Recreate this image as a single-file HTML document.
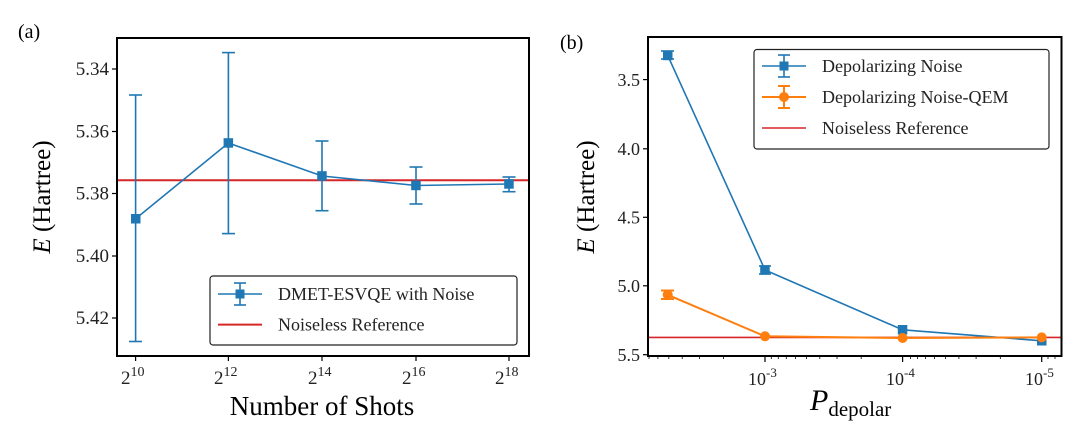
<!DOCTYPE html>
<html><head><meta charset="utf-8"><style>
html,body{margin:0;padding:0;background:#fff;}
svg{display:block;font-family:"Liberation Serif",serif;}
</style></head><body>
<svg width="1080" height="433" viewBox="0 0 1080 433" xmlns="http://www.w3.org/2000/svg">
<rect width="1080" height="433" fill="#fff"/>
<!-- Panel a -->
<text x="18" y="38" font-size="20">(a)</text>
<line x1="117" y1="180.3" x2="529" y2="180.3" stroke="#d62728" stroke-width="2"/>
<g stroke="#1f77b4" stroke-width="1.6" fill="none">
<polyline points="135.6,218.7 228.4,143 322,176 416,185.5 509,184"/>
<line x1="135.6" y1="95" x2="135.6" y2="341.5"/><line x1="129" y1="95" x2="142" y2="95"/><line x1="129" y1="341.5" x2="142" y2="341.5"/>
<line x1="228.4" y1="52.6" x2="228.4" y2="233.6"/><line x1="222" y1="52.6" x2="235" y2="52.6"/><line x1="222" y1="233.6" x2="235" y2="233.6"/>
<line x1="322" y1="141" x2="322" y2="210.7"/><line x1="315.5" y1="141" x2="328.5" y2="141"/><line x1="315.5" y1="210.7" x2="328.5" y2="210.7"/>
<line x1="416" y1="167" x2="416" y2="204"/><line x1="409.5" y1="167" x2="422.5" y2="167"/><line x1="409.5" y1="204" x2="422.5" y2="204"/>
<line x1="509" y1="177" x2="509" y2="191.7"/><line x1="502.5" y1="177" x2="515.5" y2="177"/><line x1="502.5" y1="191.7" x2="515.5" y2="191.7"/>
</g>
<g fill="#1f77b4">
<rect x="131" y="214" width="9.5" height="9.5"/><rect x="223.6" y="138.2" width="9.5" height="9.5"/><rect x="317.2" y="171.2" width="9.5" height="9.5"/><rect x="411.2" y="180.7" width="9.5" height="9.5"/><rect x="504.2" y="179.2" width="9.5" height="9.5"/>
</g>
<rect x="117" y="38" width="412" height="318" fill="none" stroke="#000" stroke-width="2"/>
<g stroke="#000" stroke-width="1.2">
<line x1="112" y1="69" x2="117" y2="69"/><line x1="112" y1="131.5" x2="117" y2="131.5"/><line x1="112" y1="193.5" x2="117" y2="193.5"/><line x1="112" y1="256" x2="117" y2="256"/><line x1="112" y1="318" x2="117" y2="318"/>
<line x1="135.6" y1="356" x2="135.6" y2="361"/><line x1="228.4" y1="356" x2="228.4" y2="361"/><line x1="322" y1="356" x2="322" y2="361"/><line x1="416" y1="356" x2="416" y2="361"/><line x1="509" y1="356" x2="509" y2="361"/>
</g>
<g font-size="19" text-anchor="end" fill="#222">
<text x="109" y="75">5.34</text><text x="109" y="137.5">5.36</text><text x="109" y="199.5">5.38</text><text x="109" y="262">5.40</text><text x="109" y="324">5.42</text>
</g>
<g font-size="19" fill="#222">
<text x="121" y="384">2<tspan font-size="14" dy="-8">10</tspan></text>
<text x="214" y="384">2<tspan font-size="14" dy="-8">12</tspan></text>
<text x="308" y="384">2<tspan font-size="14" dy="-8">14</tspan></text>
<text x="402" y="384">2<tspan font-size="14" dy="-8">16</tspan></text>
<text x="495" y="384">2<tspan font-size="14" dy="-8">18</tspan></text>
</g>
<text x="322" y="415" font-size="27" text-anchor="middle">Number of Shots</text>
<text transform="translate(50,197) rotate(-90)" font-size="25" text-anchor="middle"><tspan font-style="italic">E</tspan> (Hartree)</text>
<rect x="210" y="276" width="307" height="69" rx="3" fill="#fff" stroke="#222" stroke-width="1.2"/>
<g stroke="#1f77b4" stroke-width="1.6"><line x1="218" y1="294" x2="262" y2="294"/><line x1="240" y1="283" x2="240" y2="305"/><line x1="234" y1="283" x2="246" y2="283"/><line x1="234" y1="305" x2="246" y2="305"/></g>
<rect x="235.5" y="289.5" width="9" height="9" fill="#1f77b4"/>
<line x1="218" y1="324.6" x2="262" y2="324.6" stroke="#d62728" stroke-width="2"/>
<text x="278" y="300" font-size="18" fill="#222">DMET-ESVQE with Noise</text>
<text x="278" y="330.5" font-size="18" fill="#222">Noiseless Reference</text>

<!-- Panel b -->
<text x="560" y="49" font-size="20">(b)</text>
<line x1="648" y1="337.4" x2="1061.5" y2="337.4" stroke="#d62728" stroke-width="1.6"/>
<g stroke="#1f77b4" stroke-width="1.6" fill="none">
<polyline points="667.7,55.4 765,270 902.6,329.8 1041.7,340.8" />
<line x1="661" y1="51" x2="674" y2="51"/><line x1="661" y1="59" x2="674" y2="59"/><line x1="667.7" y1="51" x2="667.7" y2="59"/>
<line x1="759" y1="266" x2="771" y2="266"/><line x1="759" y1="274" x2="771" y2="274"/>
</g>
<g fill="#1f77b4">
<rect x="663" y="50.7" width="9.5" height="9.5"/><rect x="760.2" y="265.2" width="9.5" height="9.5"/><rect x="897.8" y="325" width="9.5" height="9.5"/><rect x="1037" y="336" width="9.5" height="9.5"/>
</g>
<g stroke="#ff7f0e" stroke-width="2" fill="none">
<polyline points="667.7,294.8 765,336.3 902.6,338 1041.7,337.4"/>
<line x1="661" y1="290.5" x2="674" y2="290.5"/><line x1="661" y1="299" x2="674" y2="299"/><line x1="667.7" y1="290.5" x2="667.7" y2="299"/>
</g>
<g fill="#ff7f0e">
<circle cx="667.7" cy="294.8" r="5"/><circle cx="765" cy="336.3" r="5"/><circle cx="902.6" cy="338" r="5"/><circle cx="1041.7" cy="337.4" r="5"/>
</g>
<rect x="648" y="37" width="413.5" height="319" fill="none" stroke="#000" stroke-width="2"/>
<g stroke="#000" stroke-width="1.2">
<line x1="643" y1="79.6" x2="648" y2="79.6"/><line x1="643" y1="148.8" x2="648" y2="148.8"/><line x1="643" y1="217.3" x2="648" y2="217.3"/><line x1="643" y1="285.8" x2="648" y2="285.8"/><line x1="643" y1="354.7" x2="648" y2="354.7"/>
<line x1="765" y1="356" x2="765" y2="362"/><line x1="902.6" y1="356" x2="902.6" y2="362"/><line x1="1041.7" y1="356" x2="1041.7" y2="362"/>
</g>
<g stroke="#000" stroke-width="0.8">
<line x1="723.6" y1="356" x2="723.6" y2="359"/><line x1="699.4" y1="356" x2="699.4" y2="359"/><line x1="682.2" y1="356" x2="682.2" y2="359"/><line x1="668.8" y1="356" x2="668.8" y2="359"/><line x1="657.9" y1="356" x2="657.9" y2="359"/><line x1="649" y1="356" x2="649" y2="359"/>
<line x1="861.2" y1="356" x2="861.2" y2="359"/><line x1="837" y1="356" x2="837" y2="359"/><line x1="819.8" y1="356" x2="819.8" y2="359"/><line x1="806.4" y1="356" x2="806.4" y2="359"/><line x1="795.5" y1="356" x2="795.5" y2="359"/><line x1="786.3" y1="356" x2="786.3" y2="359"/><line x1="778.3" y1="356" x2="778.3" y2="359"/><line x1="771.3" y1="356" x2="771.3" y2="359"/>
<line x1="1000.3" y1="356" x2="1000.3" y2="359"/><line x1="976.1" y1="356" x2="976.1" y2="359"/><line x1="958.9" y1="356" x2="958.9" y2="359"/><line x1="945.5" y1="356" x2="945.5" y2="359"/><line x1="934.6" y1="356" x2="934.6" y2="359"/><line x1="925.4" y1="356" x2="925.4" y2="359"/><line x1="917.4" y1="356" x2="917.4" y2="359"/><line x1="910.4" y1="356" x2="910.4" y2="359"/>
<line x1="1048" y1="356" x2="1048" y2="359"/><line x1="1055" y1="356" x2="1055" y2="359"/>
</g>
<g font-size="18" text-anchor="end" fill="#222">
<text x="640" y="86">3.5</text><text x="640" y="155">4.0</text><text x="640" y="223.5">4.5</text><text x="640" y="292">5.0</text><text x="640" y="361">5.5</text>
</g>
<g font-size="18" fill="#222">
<text x="748" y="385">10<tspan font-size="13" dy="-8">-3</tspan></text>
<text x="886" y="385">10<tspan font-size="13" dy="-8">-4</tspan></text>
<text x="1025" y="385">10<tspan font-size="13" dy="-8">-5</tspan></text>
</g>
<text x="810" y="410" font-size="30" font-style="italic">P<tspan font-style="normal" font-size="21" dy="6">depolar</tspan></text>
<text transform="translate(594,197) rotate(-90)" font-size="25" text-anchor="middle"><tspan font-style="italic">E</tspan> (Hartree)</text>
<rect x="754" y="49.5" width="295" height="99.5" rx="3" fill="#fff" stroke="#222" stroke-width="1.2"/>
<g stroke="#1f77b4" stroke-width="1.6"><line x1="762" y1="66" x2="806" y2="66"/><line x1="784" y1="55" x2="784" y2="77"/><line x1="778" y1="55" x2="790" y2="55"/><line x1="778" y1="77" x2="790" y2="77"/></g>
<rect x="779.5" y="61.5" width="9" height="9" fill="#1f77b4"/>
<g stroke="#ff7f0e" stroke-width="2"><line x1="762" y1="97" x2="806" y2="97"/><line x1="784" y1="86" x2="784" y2="108"/><line x1="778" y1="86" x2="790" y2="86"/><line x1="778" y1="108" x2="790" y2="108"/></g>
<circle cx="784" cy="97" r="5" fill="#ff7f0e"/>
<line x1="762" y1="128" x2="806" y2="128" stroke="#d62728" stroke-width="1.6"/>
<text x="822" y="72" font-size="18" fill="#222">Depolarizing Noise</text>
<text x="822" y="103" font-size="18" fill="#222">Depolarizing Noise-QEM</text>
<text x="822" y="134" font-size="18" fill="#222">Noiseless Reference</text>
</svg>
</body></html>
